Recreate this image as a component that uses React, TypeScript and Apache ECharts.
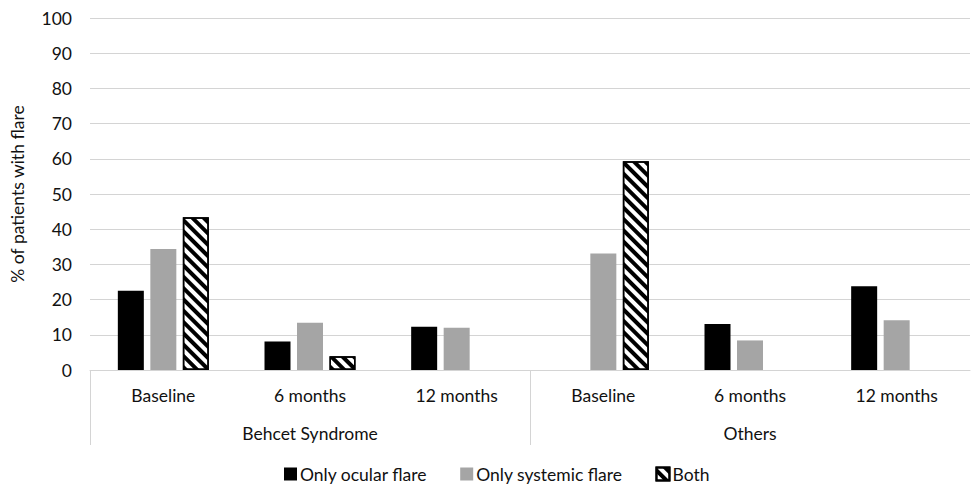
import React, { useEffect, useRef } from 'react';
import * as echarts from 'echarts';

const timepoints = ['Baseline', '6 months', '12 months', 'Baseline', '6 months', '12 months'];
const groups = ['Behcet Syndrome', 'Others'];
const seriesNames = ['Only ocular flare', 'Only systemic flare', 'Both'];
const ocular = [22.5, 8.1, 12.3, 0, 13.1, 23.8];
const systemic = [34.4, 13.4, 12.0, 33.1, 8.4, 14.1];
const both = [43.4, 3.9, null, 59.3, null, null];
const groupBoundaries = [0, 1];
const groupCenters = [0.5, 1.5];

const FONT = 'Lato';
const FS = 17.5;
const TXT = '#111111';
const GRID = '#d4d4d4';

export default function App() {
  const ref = useRef<HTMLDivElement>(null);
  useEffect(() => {
    if (!ref.current) return;
    const chart = echarts.init(ref.current, null, { renderer: 'svg' });
    chart.setOption({
      animation: false,
      backgroundColor: '#ffffff',
      textStyle: { fontFamily: FONT, color: TXT },
      grid: { left: 88, right: 3, top: 18, bottom: 121, containLabel: false },
      legend: {
        bottom: 3,
        left: 279,
        itemWidth: 13,
        itemHeight: 13,
        itemGap: 33,
        icon: 'rect',
        textStyle: { fontFamily: FONT, fontSize: FS, color: TXT, padding: [0, 0, 0, -2] },
        data: seriesNames,
      },
      xAxis: [
        {
          type: 'category',
          data: timepoints,
          position: 'bottom',
          axisLine: { show: true, lineStyle: { color: GRID, width: 1 } },
          axisTick: { show: false },
          axisLabel: { fontFamily: FONT, fontSize: FS, color: TXT, margin: 16, interval: 0 },
          splitLine: { show: false },
        },
        {
          type: 'value',
          min: 0,
          max: 2,
          position: 'bottom',
          axisLine: { show: false },
          splitLine: { show: false },
          axisTick: {
            show: true,
            length: 75,
            customValues: groupBoundaries,
            lineStyle: { color: GRID, width: 1 },
          },
          axisLabel: {
            customValues: groupCenters,
            formatter: (v: number) => groups[Math.floor(v)] ?? '',
            fontFamily: FONT,
            fontSize: FS,
            color: TXT,
            margin: 54,
          },
        },
      ],
      yAxis: {
        type: 'value',
        min: 0,
        max: 100,
        interval: 10,
        name: '% of patients with flare',
        nameLocation: 'middle',
        nameGap: 64,
        nameRotate: 90,
        nameTextStyle: { fontFamily: FONT, fontSize: FS, color: TXT },
        axisLine: { show: false },
        axisTick: { show: false },
        axisLabel: { fontFamily: FONT, fontSize: FS, color: TXT, margin: 18 },
        splitLine: { show: true, lineStyle: { color: GRID, width: 1 } },
      },
      series: [
        {
          name: seriesNames[0],
          type: 'bar',
          xAxisIndex: 0,
          data: ocular,
          barWidth: 26,
          barGap: '25%',
          itemStyle: { color: '#000000' },
        },
        {
          name: seriesNames[1],
          type: 'bar',
          xAxisIndex: 0,
          data: systemic,
          barWidth: 26,
          barGap: '25%',
          itemStyle: { color: '#a5a5a5' },
        },
        {
          name: seriesNames[2],
          type: 'bar',
          xAxisIndex: 0,
          data: both,
          barWidth: 26,
          barGap: '25%',
          itemStyle: {
            color: '#ffffff',
            borderColor: '#000000',
            borderWidth: 1.5,
            decal: {
              symbol: 'rect',
              symbolSize: 1,
              dashArrayX: [1, 0],
              dashArrayY: [4, 4],
              rotation: Math.PI / 4,
              color: '#000000',
              backgroundColor: '#ffffff',
            },
          },
        },
      ],
    });
    return () => chart.dispose();
  }, []);
  return (
    <div
      ref={ref}
      style={{ position: 'absolute', left: 0, top: 0, width: 973, height: 491 }}
    />
  );
}
